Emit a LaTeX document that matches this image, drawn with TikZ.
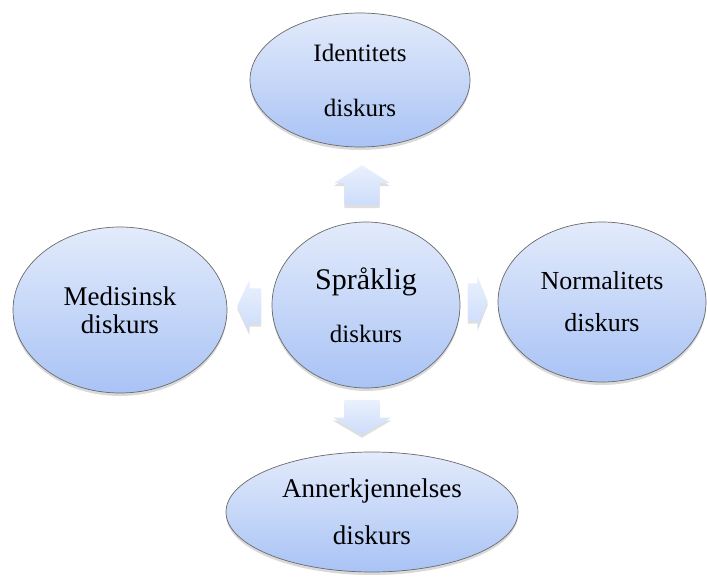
\documentclass[tikz,border=0pt]{standalone}
\usepackage{fontspec}
\setmainfont{Liberation Serif}
\usepackage{tikz}
\usetikzlibrary{positioning,shapes,shadows}

\definecolor{bubbletop}{HTML}{E3EBFB}
\definecolor{bubblebot}{HTML}{A9C3F5}
\definecolor{bubbleline}{HTML}{6A6A6A}
\definecolor{pointertop}{HTML}{EAF1FD}
\definecolor{pointerbot}{HTML}{CCDCFA}

\tikzset{
	bubble/.style={ellipse, draw=bubbleline, line width=0.7pt, inner sep=0pt,
		top color=bubbletop, bottom color=bubblebot, align=center,
		drop shadow={opacity=0.3, shadow xshift=0pt, shadow yshift=-3pt}},
	pointer/.style={single arrow, anchor=tip,
		top color=pointertop, bottom color=pointerbot,
		drop shadow={opacity=0.25, shadow xshift=0pt, shadow yshift=-3pt}}
}

\begin{document}
\begin{tikzpicture}[x=1pt,y=-1pt]
		\useasboundingbox (0,0) rectangle (707,580);
		% discourses
		\node[bubble, minimum width=220pt, minimum height=134pt,
			font=\fontsize{25}{55}\selectfont] (ident) at (360,80) {Identitets\\diskurs};
		\node[bubble, minimum width=188pt, minimum height=166pt,
			font=\fontsize{30}{53}\selectfont] (sprak) at (366,305) {Språklig\\{\fontsize{25}{30}\selectfont diskurs}};
		\node[bubble, minimum width=214pt, minimum height=166pt,
			font=\fontsize{27}{28}\selectfont] (medis) at (120,310) {Medisinsk\\diskurs};
		\node[bubble, minimum width=208pt, minimum height=160pt,
			font=\fontsize{26}{42}\selectfont] (normal) at (602,302) {Normalitets\\diskurs};
		\node[bubble, minimum width=292pt, minimum height=120pt,
			font=\fontsize{27}{47}\selectfont] (anner) at (372,512) {Annerkjennelses\\diskurs};
		% block arrows
		\node[pointer, shape border rotate=90, inner xsep=17.5pt, inner ysep=0pt, minimum height=40pt, minimum width=56pt,
			single arrow head extend=10.5pt, single arrow tip angle=115] (upA) at (362,165) {};
		\node[pointer, shape border rotate=270, inner xsep=17.5pt, inner ysep=0pt, minimum height=35pt, minimum width=58pt,
			single arrow head extend=11.5pt, single arrow tip angle=119] (downA) at (362,435) {};
		\node[pointer, shape border rotate=180, inner ysep=17.5pt, inner xsep=0pt, minimum height=24pt, minimum width=52pt,
			single arrow head extend=8.5pt, single arrow tip angle=130] (leftA) at (237,306) {};
		\node[pointer, inner ysep=18.5pt, inner xsep=0pt, minimum height=20pt, minimum width=51pt,
			single arrow head extend=7pt, single arrow tip angle=137] (rightA) at (488,302) {};
	\end{tikzpicture}
\end{document}
